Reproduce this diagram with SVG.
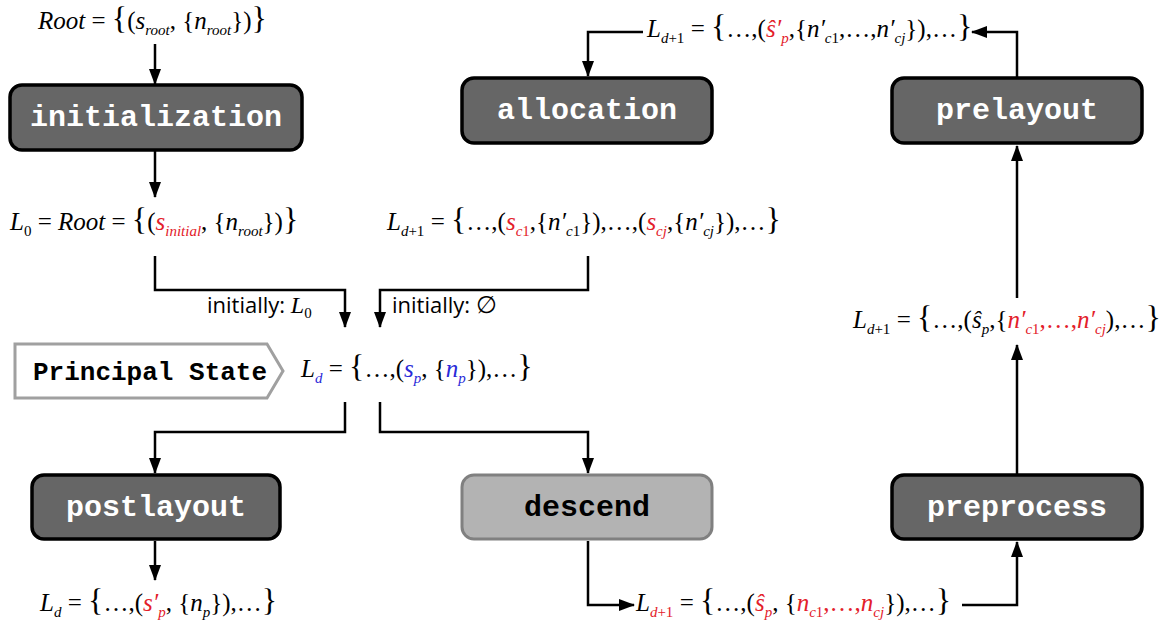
<svg xmlns="http://www.w3.org/2000/svg" width="1165" height="625" viewBox="0 0 1165 625">
<defs>
<marker id="ah" markerUnits="userSpaceOnUse" markerWidth="16" markerHeight="12" refX="15" refY="6" orient="auto">
<path d="M0,0 L16,6 L0,12 z" fill="#000"/>
</marker>
<style>
.box{fill:#666;stroke:#000;stroke-width:3.5}
.box2{fill:#b3b3b3;stroke:#808080;stroke-width:3}
.bl{font-family:"Liberation Mono","Courier New",monospace;font-weight:bold;font-size:30px;fill:#fff;text-anchor:middle}
.bl2{fill:#000}
.c{fill:none;stroke:#000;stroke-width:2.5}
.m{font-family:"Liberation Serif","Times New Roman",serif;font-style:italic;font-size:25px;fill:#000}
.u{font-style:normal}
.br{font-style:normal;font-size:32px}
.sb{font-size:15px}
.r{fill:#e3202a}
.b{fill:#2a2ad8}
.lab{font-family:"Open Sans","Liberation Sans",sans-serif;font-size:22px;fill:#000}
</style>
</defs>
<rect width="1165" height="625" fill="#fff"/>

<g id="connectors">
<path class="c" d="M155,44 V84" marker-end="url(#ah)"/>
<path class="c" d="M155,151 V197" marker-end="url(#ah)"/>
<path class="c" d="M155,256 V290 H345 V327" marker-end="url(#ah)"/>
<path class="c" d="M588,256 V290 H380 V327" marker-end="url(#ah)"/>
<path class="c" d="M345,402 V432 H155 V473" marker-end="url(#ah)"/>
<path class="c" d="M380,402 V432 H588 V473" marker-end="url(#ah)"/>
<path class="c" d="M155,541 V580" marker-end="url(#ah)"/>
<path class="c" d="M588,541 V605 H634" marker-end="url(#ah)"/>
<path class="c" d="M962,605 H1017 V542" marker-end="url(#ah)"/>
<path class="c" d="M1017,474 V345" marker-end="url(#ah)"/>
<path class="c" d="M1017,298 V146" marker-end="url(#ah)"/>
<path class="c" d="M1017,77 V32 H972" marker-end="url(#ah)"/>
<path class="c" d="M643,32 H588 V76" marker-end="url(#ah)"/>
</g>

<g id="initialization">
<rect class="box" x="10" y="85" width="292" height="65" rx="12"/>
<text class="bl" x="156" y="126">initialization</text>
</g>
<g id="allocation">
<rect class="box" x="462" y="78" width="250" height="65" rx="12"/>
<text class="bl" x="587" y="119">allocation</text>
</g>
<g id="prelayout">
<rect class="box" x="892" y="78" width="250" height="65" rx="12"/>
<text class="bl" x="1017" y="119">prelayout</text>
</g>
<g id="postlayout">
<rect class="box" x="32" y="475" width="248" height="64" rx="12"/>
<text class="bl" x="156" y="516">postlayout</text>
</g>
<g id="descend">
<rect class="box2" x="462" y="475" width="250" height="64" rx="12"/>
<text class="bl bl2" x="587" y="516">descend</text>
</g>
<g id="preprocess">
<rect class="box" x="892" y="475" width="250" height="64" rx="12"/>
<text class="bl" x="1017" y="516">preprocess</text>
</g>
<g id="principal-state">
<path d="M15,344 H267 L283,371 L267,398 H15 Z" fill="#fff" stroke="#a0a0a0" stroke-width="3"/>
<text x="33" y="380" style="font-family:'Liberation Mono','Courier New',monospace;font-weight:bold;font-size:26px;fill:#000">Principal State</text>
</g>

<g id="labels">
<text class="lab" x="207" y="313">initially: <tspan class="m" style="font-size:24px">L<tspan class="u sb" dy="5">0</tspan></tspan></text>
<text class="lab" x="392" y="313">initially: <tspan style="font-family:'Liberation Serif',serif;font-size:24px">∅</tspan></text>
</g>

<g id="formulas">
<text id="f-root" class="m" x="38" y="29">Root<tspan class="u"> = </tspan><tspan class="br">{</tspan><tspan class="u">(</tspan>s<tspan class="sb" dy="6">root</tspan><tspan class="u" dy="-6">, {</tspan>n<tspan class="sb" dy="6">root</tspan><tspan class="u" dy="-6">})</tspan><tspan class="br">}</tspan></text>

<text id="f-l0" class="m" x="10" y="230">L<tspan class="u sb" dy="6">0</tspan><tspan class="u" dy="-6"> = </tspan>Root<tspan class="u"> = </tspan><tspan class="br">{</tspan><tspan class="u">(</tspan><tspan class="r">s</tspan><tspan class="sb r" dy="6">initial</tspan><tspan class="u" dy="-6">, {</tspan>n<tspan class="sb" dy="6">root</tspan><tspan class="u" dy="-6">})</tspan><tspan class="br">}</tspan></text>

<text id="f-alloc" class="m" x="387" y="230">L<tspan class="sb" dy="6">d<tspan class="u">+1</tspan></tspan><tspan class="u" dy="-6"> = </tspan><tspan class="br">{</tspan><tspan class="u">…,(</tspan><tspan class="r">s</tspan><tspan class="sb r" dy="6">c<tspan class="u">1</tspan></tspan><tspan class="u" dy="-6">,{</tspan>n′<tspan class="sb" dy="6">c<tspan class="u">1</tspan></tspan><tspan class="u" dy="-6">}),…,(</tspan><tspan class="r">s</tspan><tspan class="sb r" dy="6">cj</tspan><tspan class="u" dy="-6">,{</tspan>n′<tspan class="sb" dy="6">cj</tspan><tspan class="u" dy="-6">}),…</tspan><tspan class="br">}</tspan></text>

<text id="f-principal" class="m" x="301" y="377">L<tspan class="sb b" dy="6">d</tspan><tspan class="u" dy="-6"> = </tspan><tspan class="br">{</tspan><tspan class="u">…,(</tspan><tspan class="b">s</tspan><tspan class="sb b" dy="6">p</tspan><tspan class="u" dy="-6">, {</tspan><tspan class="b">n</tspan><tspan class="sb b" dy="6">p</tspan><tspan class="u" dy="-6">}),…</tspan><tspan class="br">}</tspan></text>

<text id="f-top" class="m" x="647" y="37">L<tspan class="sb" dy="6">d<tspan class="u">+1</tspan></tspan><tspan class="u" dy="-6"> = </tspan><tspan class="br">{</tspan><tspan class="u">…,(</tspan><tspan class="r">ŝ′</tspan><tspan class="sb r" dy="6">p</tspan><tspan class="u" dy="-6">,{</tspan>n′<tspan class="sb" dy="6">c<tspan class="u">1</tspan></tspan><tspan class="u" dy="-6">,…,</tspan>n′<tspan class="sb" dy="6">cj</tspan><tspan class="u" dy="-6">}),…</tspan><tspan class="br">}</tspan></text>

<text id="f-mid" class="m" x="853" y="328">L<tspan class="sb" dy="6">d<tspan class="u">+1</tspan></tspan><tspan class="u" dy="-6"> = </tspan><tspan class="br">{</tspan><tspan class="u">…,(</tspan>ŝ<tspan class="sb" dy="6">p</tspan><tspan class="u" dy="-6">,{</tspan><tspan class="r">n′</tspan><tspan class="sb r" dy="6">c<tspan class="u">1</tspan></tspan><tspan class="u r" dy="-6">,…,</tspan><tspan class="r">n′</tspan><tspan class="sb r" dy="6">cj</tspan><tspan class="u" dy="-6">),…</tspan><tspan class="br">}</tspan></text>

<text id="f-post" class="m" x="40" y="611">L<tspan class="sb" dy="6">d</tspan><tspan class="u" dy="-6"> = </tspan><tspan class="br">{</tspan><tspan class="u">…,(</tspan><tspan class="r">s′</tspan><tspan class="sb r" dy="6">p</tspan><tspan class="u" dy="-6">, {</tspan>n<tspan class="sb" dy="6">p</tspan><tspan class="u" dy="-6">}),…</tspan><tspan class="br">}</tspan></text>

<text id="f-desc" class="m" x="636" y="611">L<tspan class="sb r" dy="6">d<tspan class="u">+1</tspan></tspan><tspan class="u" dy="-6"> = </tspan><tspan class="br">{</tspan><tspan class="u">…,(</tspan><tspan class="r">ŝ</tspan><tspan class="sb r" dy="6">p</tspan><tspan class="u" dy="-6">, {</tspan><tspan class="r">n</tspan><tspan class="sb r" dy="6">c<tspan class="u">1</tspan></tspan><tspan class="u r" dy="-6">,…,</tspan><tspan class="r">n</tspan><tspan class="sb r" dy="6">cj</tspan><tspan class="u" dy="-6">}),…</tspan><tspan class="br">}</tspan></text>
</g>
</svg>
